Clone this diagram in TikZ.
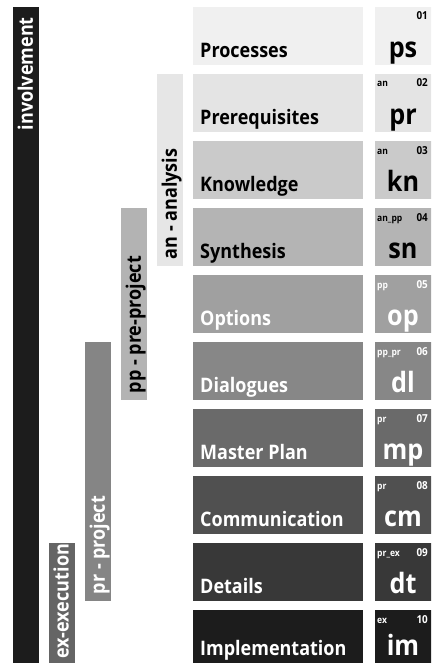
\documentclass[tikz,border=0pt]{standalone}
\usepackage{fontspec}
\setmainfont{Open Sans}[FakeStretch=0.9]
\definecolor{r1}{HTML}{F0F0F0}
\definecolor{r2}{HTML}{E4E4E4}
\definecolor{r3}{HTML}{CACACA}
\definecolor{r4}{HTML}{B4B4B4}
\definecolor{r5}{HTML}{A0A0A0}
\definecolor{r6}{HTML}{878787}
\definecolor{r7}{HTML}{6A6A6A}
\definecolor{r8}{HTML}{505050}
\definecolor{r9}{HTML}{383838}
\definecolor{r10}{HTML}{1C1C1C}
\definecolor{binv}{HTML}{1C1C1C}
\definecolor{ban}{HTML}{E6E6E6}
\definecolor{bpp}{HTML}{B3B3B3}
\definecolor{bpr}{HTML}{858585}
\definecolor{bex}{HTML}{656565}
\begin{document}
\begin{tikzpicture}[x=1pt,y=-1pt,
  box/.style={draw=none,inner sep=0pt,anchor=north west,minimum height=58pt},
  namebox/.style={box,minimum width=170pt},
  codebox/.style={box,minimum width=60pt},
  bar/.style={draw=none,inner sep=0pt,anchor=north west,minimum width=26pt},
  nametext/.style={inner sep=0pt,anchor=base west,font=\bfseries\fontsize{20}{22}\selectfont},
  codetext/.style={inner sep=0pt,anchor=base,font=\bfseries\fontsize{28}{30}\selectfont},
  tagtext/.style={inner sep=0pt,anchor=base west,font=\bfseries\fontsize{9.5}{10}\selectfont},
  numtext/.style={inner sep=0pt,anchor=base east,font=\bfseries\fontsize{11}{12}\selectfont},
  bartext/.style={inner sep=0pt,rotate=90,font=\bfseries\fontsize{20}{22}\selectfont}]
\useasboundingbox (0,0) rectangle (431,663);
\clip (0,0) rectangle (431,663);
\fill[white] (0,0) rectangle (431,663);
\foreach \i/\nm/\cd/\tg/\nu/\tc/\up in {
  1/Processes/ps//01/black/8,
  2/Prerequisites/pr/an/02/black/8,
  3/Knowledge/kn/an/03/black/8,
  4/Synthesis/sn/an\_pp/04/black/8,
  5/Options/op/pp/05/white/8,
  6/Dialogues/dl/pp\_pr/06/white/8,
  7/Master Plan/mp/pr/07/white/8,
  8/Communication/cm/pr/08/white/8,
  9/Details/dt/pr\_ex/09/white/8,
  10/Implementation/im/ex/10/white/13}{
  \pgfmathsetmacro{\top}{7+67*(\i-1)}
  \node[namebox,fill=r\i] (n\i) at (193,\top) {};
  \node[codebox,fill=r\i] (c\i) at (375,\top) {};
  \node[nametext,text=\tc] (nt\i) at ([xshift=7pt,yshift=\up pt]n\i.south west) {\nm};
  \node[codetext,text=\tc] (ct\i) at ([xshift=28pt,yshift=\up pt]c\i.south west) {\cd};
  \node[tagtext,text=\tc] (tt\i) at ([xshift=2pt,yshift=-13pt]c\i.north west) {\tg};
  \node[numtext,text=\tc] (nn\i) at ([xshift=53pt,yshift=-13pt]c\i.north west) {\nu};
}
% phase bars
\node[bar,fill=binv,minimum height=670pt] (binv) at (13,7) {};
\node[bar,fill=bex,minimum height=130pt] (bex) at (49,543) {};
\node[bar,fill=bpr,minimum height=259pt] (bpr) at (85,342) {};
\node[bar,fill=bpp,minimum height=192pt] (bpp) at (121,208) {};
\node[bar,fill=ban,minimum height=192pt] (ban) at (157,74) {};
\node[bartext,anchor=base east,text=white] (tinv) at ([xshift=-6.5pt,yshift=-10pt]binv.north east) {involvement};
\node[bartext,anchor=base west,text=white] (tex) at (68.5,659) {ex-execution};
\node[bartext,anchor=base west,text=white] (tpr) at ([xshift=-6.5pt,yshift=7pt]bpr.south east) {pr - project};
\node[bartext,anchor=base west,text=black] (tpp) at ([xshift=-6.5pt,yshift=7pt]bpp.south east) {pp - pre-project};
\node[bartext,anchor=base west,text=black] (tan) at ([xshift=-6.5pt,yshift=7pt]ban.south east) {an - analysis};
\end{tikzpicture}
\end{document}
